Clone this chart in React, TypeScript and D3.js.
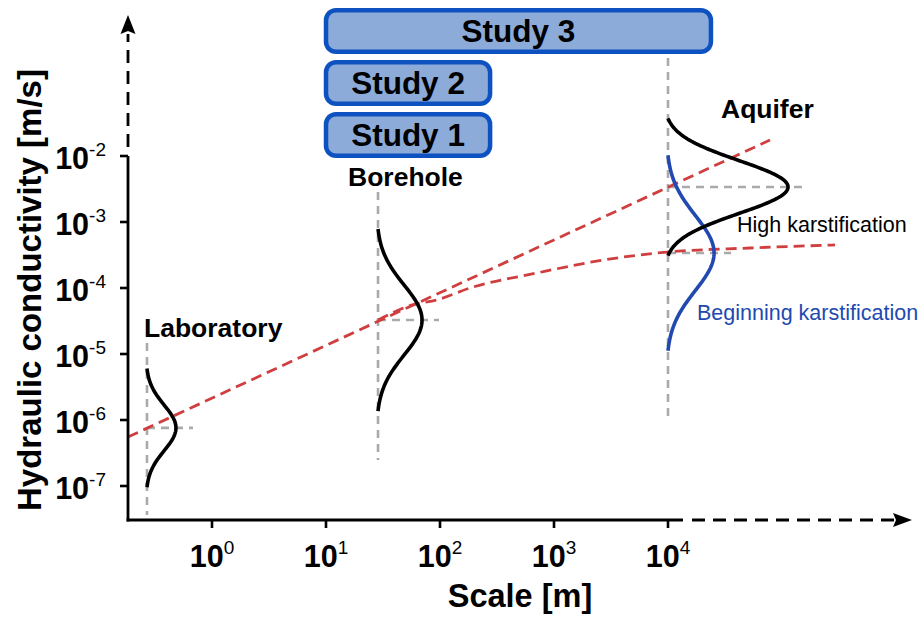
import React from "react";
import * as d3 from "d3";

// Axis ticks (powers of ten)
const xTickExponents = [0, 1, 2, 3, 4];
const yTickExponents = [-7, -6, -5, -4, -3, -2];

// Measurement sites: representative scale [m] and extent of the vertical guide [m/s]
const siteNames = ["Laboratory", "Borehole", "Aquifer"];
const siteScales = [0.269, 28.6, 1e4];
const siteGuideTop = [1.47e-5, 2.85e-3, 0.306];
const siteGuideBottom = [3.63e-8, 2.48e-7, 1.0e-6];

// Log-normal conductivity distributions at each site
const distNames = ["Laboratory", "Borehole", "High karstification", "Beginning karstification"];
const distScale = [0.269, 28.6, 1e4, 1e4];
const distMedianK = [7.6e-7, 3.27e-5, 3.39e-3, 3.39e-4];
const distHalfRangeDecades = [0.9, 1.38, 1.04, 1.48];
const distPeakDecades = [0.254, 0.386, 1.053, 0.404];

// Scale-effect trends
const trendScale = [0.183, 78500];
const trendK = [5.52e-7, 1.746e-2];
const saturationScale = [28.6, 56.2, 94.2, 183, 710, 2690, 9800, 52500, 292000];
const saturationK = [3.27e-5, 5.5e-5, 6.6e-5, 1.0e-4, 1.69e-4, 2.65e-4, 3.5e-4, 4.04e-4, 4.49e-4];

// Scale ranges covered by the studies [m]
const studyNames = ["Study 1", "Study 2", "Study 3"];
const studyFrom = [10, 10, 10];
const studyTo = [275, 275, 23800];

const FONT = "'Liberation Sans', Arial, Helvetica, sans-serif";
const GRAY = "#aaaaaa";
const RED = "#d03f3f";
const BLUE = "#2149b0";
const BOX_FILL = "#8cabd9";
const BOX_STROKE = "#0e52c2";

const x = d3.scaleLog().domain([1, 1e4]).range([212, 668]);
const y = d3.scaleLog().domain([1e-7, 1e-2]).range([486, 156]);

const AXIS_X0 = 128;
const AXIS_Y0 = 520;

const line = d3
  .line<[number, number]>()
  .x((d) => x(d[0]))
  .y((d) => y(d[1]));

const smoothLine = d3
  .line<[number, number]>()
  .x((d) => x(d[0]))
  .y((d) => y(d[1]))
  .curve(d3.curveMonotoneX);

function bellPoints(i: number): [number, number][] {
  const h = distHalfRangeDecades[i];
  const sigma = h / 2.6;
  const e0 = Math.exp(-(h * h) / (2 * sigma * sigma));
  const m = Math.log10(distMedianK[i]);
  const s0 = Math.log10(distScale[i]);
  return d3.range(0, 121).map((j) => {
    const t = -h + (2 * h * j) / 120;
    const f = (Math.exp(-(t * t) / (2 * sigma * sigma)) - e0) / (1 - e0);
    return [Math.pow(10, s0 + distPeakDecades[i] * f), Math.pow(10, m + t)] as [number, number];
  });
}

const distColors = ["#000", "#000", "#000", BLUE];
const drawOrder = [0, 1, 3, 2];

export default function App() {
  const yTop = y(1e-2);
  const xEnd = x(1e4) + 15;
  return (
    <svg
      width={922}
      height={617}
      style={{ position: "absolute", left: 0, top: 0, background: "#fff" }}
      fontFamily={FONT}
    >
      {/* site guides */}
      {siteScales.map((s, i) => (
        <line
          key={"g" + i}
          x1={x(s)}
          x2={x(s)}
          y1={y(siteGuideTop[i])}
          y2={y(siteGuideBottom[i])}
          stroke={GRAY}
          strokeWidth={2.6}
          strokeDasharray="8 6"
        />
      ))}
      {distScale.map((s, i) => {
        const peakPx = x(s * Math.pow(10, distPeakDecades[i])) - x(s);
        return (
          <line
            key={"h" + i}
            x1={x(s)}
            x2={x(s) + peakPx + 17}
            y1={y(distMedianK[i])}
            y2={y(distMedianK[i])}
            stroke={GRAY}
            strokeWidth={2.6}
            strokeDasharray="8 6"
          />
        );
      })}

      {/* trends */}
      <path
        d={line(trendScale.map((s, i) => [s, trendK[i]] as [number, number])) || ""}
        fill="none"
        stroke={RED}
        strokeWidth={2.8}
        strokeDasharray="11 6"
      />
      <path
        d={smoothLine(saturationScale.map((s, i) => [s, saturationK[i]] as [number, number])) || ""}
        fill="none"
        stroke={RED}
        strokeWidth={2.8}
        strokeDasharray="11 6"
      />

      {/* distributions */}
      {drawOrder.map((i) => (
        <path
          key={"d" + i}
          d={line(bellPoints(i)) || ""}
          fill="none"
          stroke={distColors[i]}
          strokeWidth={3.6}
        />
      ))}

      {/* y axis */}
      <line x1={AXIS_X0} x2={AXIS_X0} y1={AXIS_Y0 + 1.4} y2={yTop} stroke="#000" strokeWidth={2.8} />
      <line x1={AXIS_X0} x2={AXIS_X0} y1={yTop - 9} y2={34} stroke="#000" strokeWidth={2.8} strokeDasharray="13 8" />
      <path d={`M${AXIS_X0},15 L${AXIS_X0 + 7.5},34 L${AXIS_X0},31 L${AXIS_X0 - 7.5},34 Z`} fill="#000" />
      {yTickExponents.map((e) => (
        <g key={"yt" + e}>
          <line x1={AXIS_X0 - 8} x2={AXIS_X0} y1={y(Math.pow(10, e))} y2={y(Math.pow(10, e))} stroke="#000" strokeWidth={2.6} />
          <text x={106} y={y(Math.pow(10, e)) + 12.5} textAnchor="end" fontSize={30.5} fontWeight="bold">
            10
            <tspan dy={-12.5} fontSize={19} fontWeight="normal">
              {String(e)}
            </tspan>
          </text>
        </g>
      ))}

      {/* x axis */}
      <line x1={AXIS_X0 - 1.4} x2={xEnd} y1={AXIS_Y0} y2={AXIS_Y0} stroke="#000" strokeWidth={2.8} />
      <line x1={xEnd + 9} x2={895} y1={AXIS_Y0} y2={AXIS_Y0} stroke="#000" strokeWidth={2.8} strokeDasharray="13 8" />
      <path d={`M912,${AXIS_Y0} L893,${AXIS_Y0 - 7} L896,${AXIS_Y0} L893,${AXIS_Y0 + 7} Z`} fill="#000" />
      {xTickExponents.map((e) => (
        <g key={"xt" + e}>
          <line x1={x(Math.pow(10, e))} x2={x(Math.pow(10, e))} y1={AXIS_Y0} y2={AXIS_Y0 + 8} stroke="#000" strokeWidth={2.6} />
          <text x={x(Math.pow(10, e))} y={567} textAnchor="middle" fontSize={30.5} fontWeight="bold">
            10
            <tspan dy={-13} fontSize={19} fontWeight="normal">
              {String(e)}
            </tspan>
          </text>
        </g>
      ))}

      {/* axis titles */}
      <text x={520} y={607} textAnchor="middle" fontSize={32.5} fontWeight="bold">
        Scale [m]
      </text>
      <text
        transform="translate(41,290) rotate(-90)"
        textAnchor="middle"
        fontSize={33}
        fontWeight="bold"
      >
        Hydraulic conductivity [m/s]
      </text>

      {/* studies */}
      {studyNames.map((name, i) => {
        const top = [114.2, 62.2, 10.2][i];
        const x0 = x(studyFrom[i]);
        const x1 = x(studyTo[i]);
        return (
          <g key={name}>
            <rect
              x={x0}
              y={top}
              width={x1 - x0}
              height={41.6}
              rx={10}
              fill={BOX_FILL}
              stroke={BOX_STROKE}
              strokeWidth={4.5}
            />
            <text x={(x0 + x1) / 2} y={top + 20.8 + 10.8} textAnchor="middle" fontSize={31.5} fontWeight="bold">
              {name}
            </text>
          </g>
        );
      })}

      {/* site labels */}
      <text x={144} y={337} fontSize={26.5} fontWeight="bold">
        {siteNames[0]}
      </text>
      <text x={348} y={186} fontSize={26.5} fontWeight="bold">
        {siteNames[1]}
      </text>
      <text x={721} y={118} fontSize={26.5} fontWeight="bold">
        {siteNames[2]}
      </text>
      <text x={737} y={232} fontSize={21.5}>
        {distNames[2]}
      </text>
      <text x={697} y={320} fontSize={21.5} fill={BLUE}>
        {distNames[3]}
      </text>
    </svg>
  );
}
